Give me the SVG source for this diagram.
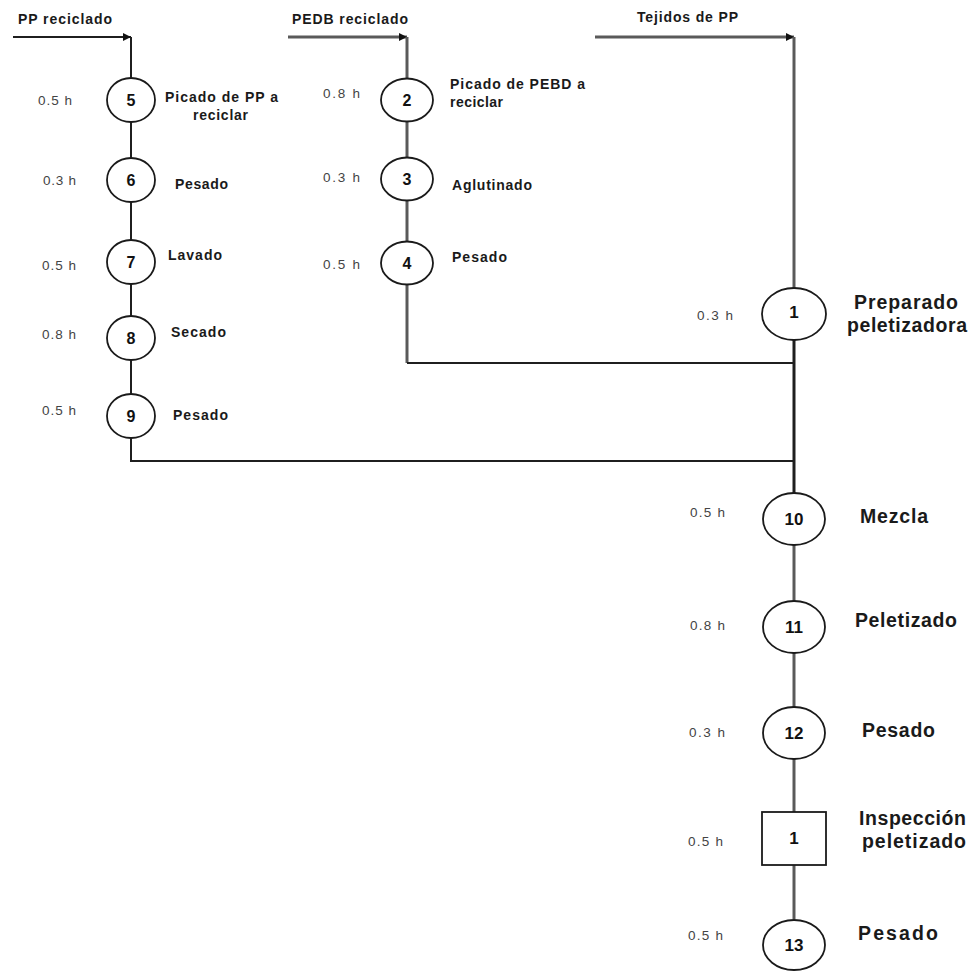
<svg xmlns="http://www.w3.org/2000/svg" width="972" height="971" viewBox="0 0 972 971">
  <defs>
    <marker id="arrow" viewBox="0 0 10 10" refX="10" refY="5" markerWidth="10" markerHeight="8" markerUnits="userSpaceOnUse" orient="auto">
      <path d="M0,0 L10,5 L0,10 Z" fill="#111"/>
    </marker>
  </defs>
  <style>
    .op { fill: #fff; stroke: #1a1a1a; stroke-width: 1.8; }
    .num { font-family: "Liberation Sans", Arial, sans-serif; font-weight: bold; fill: #111; text-anchor: middle; }
    .n-s { font-size: 16px; }
    .n-l { font-size: 17px; }
    .time { font-family: "Liberation Sans", Arial, sans-serif; font-size: 13.5px; fill: #444; }
    .lbl { font-family: "Liberation Sans", Arial, sans-serif; font-weight: bold; font-size: 14px; fill: #1a1a1a; }
    .lbl-l { font-family: "Liberation Sans", Arial, sans-serif; font-weight: bold; font-size: 19.5px; fill: #1a1a1a; }
    .dark { fill: none; stroke: #1f1f1f; stroke-width: 2; }
    .grey { fill: none; stroke: #5a5a5a; stroke-width: 3; }
    .blk { fill: none; stroke: #1f1f1f; stroke-width: 3; }
  </style>

  <rect width="972" height="971" fill="#fff"/>

  <!-- connectors -->
  <g id="connectors">
    <!-- inputs -->
    <path class="dark" d="M13,37 H131" marker-end="url(#arrow)"/>
    <path class="grey" d="M288,37 H407" marker-end="url(#arrow)"/>
    <path class="grey" d="M595,37 H794" marker-end="url(#arrow)"/>

    <!-- PP line -->
    <path class="dark" d="M131,37 V78"/>
    <path class="dark" d="M131,122 V158"/>
    <path class="dark" d="M131,202 V240"/>
    <path class="dark" d="M131,284 V316"/>
    <path class="dark" d="M131,360 V394"/>
    <path class="dark" d="M131,438 V461 H794"/>

    <!-- PEBD line -->
    <path class="grey" d="M407,37 V79"/>
    <path class="grey" d="M407,121 V158"/>
    <path class="grey" d="M407,200 V242"/>
    <path class="grey" d="M407,284 V363"/>
    <path class="dark" d="M407,363 H794"/>

    <!-- main line -->
    <path class="grey" d="M794,37 V288"/>
    <path class="blk" d="M794,340 V493"/>
    <path class="grey" d="M794,545 V601"/>
    <path class="grey" d="M794,653 V707"/>
    <path class="grey" d="M794,759 V812"/>
    <path class="grey" d="M794,865 V919"/>
  </g>

  <!-- input labels -->
  <g id="inputs">
    <text class="lbl" x="18" y="24" textLength="94">PP reciclado</text>
    <text class="lbl" x="292" y="24" textLength="116">PEDB reciclado</text>
    <text class="lbl" x="637" y="22" textLength="101">Tejidos de PP</text>
  </g>

  <!-- PP branch -->
  <g id="op5">
    <ellipse class="op" cx="131" cy="100" rx="24" ry="22"/>
    <text class="num n-s" x="131" y="106">5</text>
    <text class="time" x="38" y="105" textLength="34">0.5 h</text>
    <text class="lbl" x="165" y="102" textLength="113">Picado de PP a</text>
    <text class="lbl" x="193" y="120" textLength="55">reciclar</text>
  </g>
  <g id="op6">
    <ellipse class="op" cx="131" cy="180" rx="24" ry="22"/>
    <text class="num n-s" x="131" y="186">6</text>
    <text class="time" x="43" y="185" textLength="33">0.3 h</text>
    <text class="lbl" x="175" y="189" textLength="53">Pesado</text>
  </g>
  <g id="op7">
    <ellipse class="op" cx="131" cy="262" rx="24" ry="22"/>
    <text class="num n-s" x="131" y="268">7</text>
    <text class="time" x="42" y="270" textLength="34">0.5 h</text>
    <text class="lbl" x="168" y="260" textLength="54">Lavado</text>
  </g>
  <g id="op8">
    <ellipse class="op" cx="131" cy="338" rx="24" ry="22"/>
    <text class="num n-s" x="131" y="344">8</text>
    <text class="time" x="42" y="339" textLength="34">0.8 h</text>
    <text class="lbl" x="171" y="337" textLength="55">Secado</text>
  </g>
  <g id="op9">
    <ellipse class="op" cx="131" cy="416" rx="24" ry="22"/>
    <text class="num n-s" x="131" y="422">9</text>
    <text class="time" x="42" y="415" textLength="34">0.5 h</text>
    <text class="lbl" x="173" y="420" textLength="55">Pesado</text>
  </g>

  <!-- PEBD branch -->
  <g id="op2">
    <ellipse class="op" cx="407" cy="100" rx="26" ry="21.5"/>
    <text class="num n-s" x="407" y="106">2</text>
    <text class="time" x="323" y="98" textLength="37">0.8 h</text>
    <text class="lbl" x="450" y="89" textLength="135">Picado de PEBD a</text>
    <text class="lbl" x="450" y="107" textLength="53">reciclar</text>
  </g>
  <g id="op3">
    <ellipse class="op" cx="407" cy="179" rx="26" ry="21.5"/>
    <text class="num n-s" x="407" y="185">3</text>
    <text class="time" x="323" y="182" textLength="37">0.3 h</text>
    <text class="lbl" x="452" y="190" textLength="80">Aglutinado</text>
  </g>
  <g id="op4">
    <ellipse class="op" cx="407" cy="263" rx="26" ry="21.5"/>
    <text class="num n-s" x="407" y="269">4</text>
    <text class="time" x="323" y="269" textLength="37">0.5 h</text>
    <text class="lbl" x="452" y="262" textLength="55">Pesado</text>
  </g>

  <!-- main line -->
  <g id="op1">
    <ellipse class="op" cx="794" cy="314" rx="32" ry="26"/>
    <text class="num n-l" x="794" y="318">1</text>
    <text class="time" x="697" y="320" textLength="36">0.3 h</text>
    <text class="lbl-l" x="854" y="309" textLength="104">Preparado</text>
    <text class="lbl-l" x="847" y="332" textLength="120">peletizadora</text>
  </g>
  <g id="op10">
    <ellipse class="op" cx="794" cy="519" rx="31" ry="26"/>
    <text class="num n-l" x="794" y="525">10</text>
    <text class="time" x="690" y="517" textLength="35">0.5 h</text>
    <text class="lbl-l" x="860" y="523" textLength="68">Mezcla</text>
  </g>
  <g id="op11">
    <ellipse class="op" cx="794" cy="627" rx="31" ry="26"/>
    <text class="num n-l" x="794" y="633">11</text>
    <text class="time" x="690" y="630" textLength="35">0.8 h</text>
    <text class="lbl-l" x="855" y="627" textLength="102">Peletizado</text>
  </g>
  <g id="op12">
    <ellipse class="op" cx="794" cy="733" rx="31" ry="26"/>
    <text class="num n-l" x="794" y="739">12</text>
    <text class="time" x="689" y="737" textLength="36">0.3 h</text>
    <text class="lbl-l" x="862" y="737" textLength="73">Pesado</text>
  </g>
  <g id="insp1">
    <rect class="op" x="762" y="812" width="64" height="53"/>
    <text class="num n-l" x="794" y="844">1</text>
    <text class="time" x="688" y="846" textLength="35">0.5 h</text>
    <text class="lbl-l" x="859" y="825" textLength="107">Inspección</text>
    <text class="lbl-l" x="862" y="848" textLength="104">peletizado</text>
  </g>
  <g id="op13">
    <ellipse class="op" cx="794" cy="945" rx="31" ry="25"/>
    <text class="num n-l" x="794" y="951">13</text>
    <text class="time" x="688" y="940" textLength="35">0.5 h</text>
    <text class="lbl-l" x="858" y="940" textLength="80">Pesado</text>
  </g>
</svg>
